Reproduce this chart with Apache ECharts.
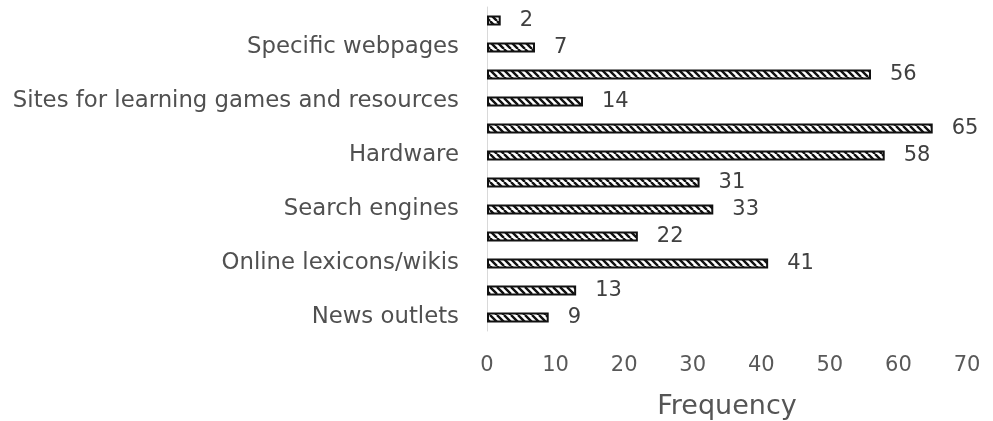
<!DOCTYPE html>
<html>
<head>
<meta charset="utf-8">
<script src="https://cdn.jsdelivr.net/npm/echarts@6/dist/echarts.min.js"></script>
<style>
html,body{margin:0;padding:0;background:#fff;}
#chart{width:993px;height:421px;}
</style>
</head>
<body>
<div id="chart"></div>
<script>
// Categories from top to bottom (unlabeled rows are blank in the original)
const categories = ['', 'Specific webpages', '', 'Sites for learning games and resources', '', 'Hardware', '', 'Search engines', '', 'Online lexicons/wikis', '', 'News outlets'];
const values = [2, 7, 56, 14, 65, 58, 31, 33, 22, 41, 13, 9];
const xTicks = [0, 10, 20, 30, 40, 50, 60, 70];
const xTitle = 'Frequency';

// hatch pattern
function makeHatch() {
  const s = 7;
  const c = document.createElement('canvas');
  c.width = s; c.height = s;
  const g = c.getContext('2d');
  g.fillStyle = '#ffffff';
  g.fillRect(0, 0, s, s);
  g.strokeStyle = '#111111';
  g.lineWidth = 2.4;
  g.beginPath();
  for (let k = -1; k <= 1; k++) {
    g.moveTo(k * s, 0);
    g.lineTo(k * s + s, s);
  }
  g.stroke();
  return c;
}

const chart = echarts.init(document.getElementById('chart'), null, {renderer: 'canvas'});
const font = "'DejaVu Sans', 'Noto Sans', sans-serif";
chart.setOption({
  animation: false,
  backgroundColor: '#ffffff',
  grid: {left: 487, right: 26, top: 7, bottom: 90, containLabel: false, outerBoundsMode: 'none'},
  xAxis: {
    type: 'value',
    min: xTicks[0],
    max: xTicks[xTicks.length - 1],
    interval: 10,
    name: xTitle,
    nameLocation: 'middle',
    nameGap: 62,
    nameTextStyle: {fontFamily: font, fontSize: 27, color: '#555555'},
    axisLine: {show: false},
    axisTick: {show: false},
    splitLine: {show: false},
    axisLabel: {fontFamily: font, fontSize: 21, color: '#595959', margin: 24}
  },
  yAxis: {
    type: 'category',
    data: categories,
    inverse: true,
    axisLine: {show: true, lineStyle: {color: '#d9d9d9', width: 1}},
    axisTick: {show: false},
    axisLabel: {interval: 0, fontFamily: font, fontSize: 22.8, color: '#505050', margin: 28}
  },
  series: [{
    type: 'bar',
    data: values,
    barWidth: 10,
    itemStyle: {
      color: {image: makeHatch(), repeat: 'repeat'},
      borderColor: '#111111',
      borderWidth: 2
    },
    label: {
      show: true,
      position: 'right',
      distance: 19,
      fontFamily: font,
      fontSize: 21,
      color: '#404040'
    }
  }]
});
</script>
</body>
</html>
